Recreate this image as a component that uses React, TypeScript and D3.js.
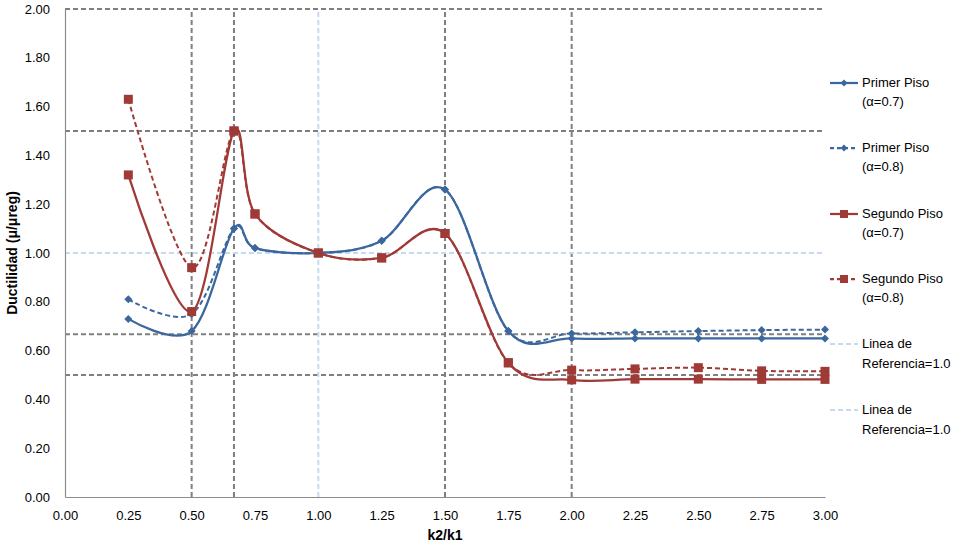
import React, { useEffect, useRef } from 'react';
import * as d3 from 'd3';

// k2/k1 ratios
const ratios = [0.25, 0.5, 0.667, 0.75, 1.0, 1.25, 1.5, 1.75, 2.0, 2.25, 2.5, 2.75, 3.0];

const primer07 = [0.73, 0.68, 1.10, 1.02, 1.00, 1.05, 1.26, 0.68, 0.65, 0.65, 0.65, 0.65, 0.65];
const primer08 = [0.81, 0.75, 1.10, 1.02, 1.00, 1.05, 1.26, 0.68, 0.67, 0.675, 0.68, 0.684, 0.686];
const segundo07 = [1.32, 0.76, 1.50, 1.16, 1.00, 0.98, 1.08, 0.55, 0.48, 0.483, 0.483, 0.482, 0.482];
const segundo08 = [1.63, 0.94, 1.50, 1.16, 1.00, 0.98, 1.08, 0.55, 0.52, 0.525, 0.53, 0.517, 0.515];

const grayH = [2.0, 1.5, 0.667, 0.5];
const grayV = [0.5, 0.667, 1.5, 2.0];
const refValue = 1.0;

const xTicks = d3.range(0, 3.001, 0.25);
const yTicks = d3.range(0, 2.001, 0.2);

const BLUE = '#3B679E';
const RED = '#A03A37';

const series = [
  { name: ['Primer Piso', '(α=0.7)'], values: primer07, color: BLUE, dash: null, marker: 'diamond' },
  { name: ['Primer Piso', '(α=0.8)'], values: primer08, color: BLUE, dash: '5,3', marker: 'diamond' },
  { name: ['Segundo Piso', '(α=0.7)'], values: segundo07, color: RED, dash: null, marker: 'square' },
  { name: ['Segundo Piso', '(α=0.8)'], values: segundo08, color: RED, dash: '5,3', marker: 'square' },
];

const refLegend = [['Linea de', 'Referencia=1.0'], ['Linea de', 'Referencia=1.0']];

const App = () => {
  const svgRef = useRef<SVGSVGElement>(null);
  const width = 959;
  const height = 545;
  const margin = { top: 9, right: 134, bottom: 48, left: 65 };

  useEffect(() => {
    const svg = d3.select(svgRef.current);
    svg.selectAll('*').remove();
    const font = 'Liberation Sans, Arial, sans-serif';

    const x = d3.scaleLinear().domain([0, 3]).range([margin.left, width - margin.right]);
    const y = d3.scaleLinear().domain([0, 2]).range([height - margin.bottom, margin.top]);

    // gray dashed reference grid
    svg.append('g').selectAll('line').data(grayH).enter().append('line')
      .attr('x1', x(0)).attr('x2', x(3))
      .attr('y1', d => y(d)).attr('y2', d => y(d))
      .attr('stroke', '#7F7F7F').attr('stroke-width', 2).attr('stroke-dasharray', '5,3');
    svg.append('g').selectAll('line').data(grayV).enter().append('line')
      .attr('x1', d => x(d)).attr('x2', d => x(d))
      .attr('y1', y(0)).attr('y2', y(2))
      .attr('stroke', '#7F7F7F').attr('stroke-width', 2).attr('stroke-dasharray', '5,3');

    // light blue reference line at 1.0
    svg.append('line')
      .attr('x1', x(0)).attr('x2', x(3)).attr('y1', y(refValue)).attr('y2', y(refValue))
      .attr('stroke', '#C6D9F1').attr('stroke-width', 2).attr('stroke-dasharray', '5,3');
    svg.append('line')
      .attr('x1', x(refValue)).attr('x2', x(refValue)).attr('y1', y(0)).attr('y2', y(2))
      .attr('stroke', '#C6D9F1').attr('stroke-width', 2).attr('stroke-dasharray', '5,3');

    // axes
    const xAxis = svg.append('g')
      .attr('transform', `translate(0,${y(0)})`)
      .call(d3.axisBottom(x).tickValues(xTicks).tickFormat(d3.format('.2f')).tickSize(0).tickPadding(14));
    const yAxis = svg.append('g')
      .attr('transform', `translate(${x(0)},0)`)
      .call(d3.axisLeft(y).tickValues(yTicks).tickFormat(d3.format('.2f')).tickSize(0).tickPadding(15));
    [xAxis, yAxis].forEach(a => {
      a.select('.domain').attr('stroke', '#8C8C8C').attr('stroke-width', 1.2);
      a.selectAll('text').attr('font-family', font).attr('font-size', 13).attr('fill', '#000');
    });

    svg.append('text')
      .attr('x', x(1.5)).attr('y', 540)
      .attr('text-anchor', 'middle')
      .attr('font-family', font).attr('font-size', 14).attr('font-weight', 'bold')
      .text('k2/k1');
    svg.append('text')
      .attr('transform', `translate(17,${y(1)}) rotate(-90)`)
      .attr('text-anchor', 'middle')
      .attr('font-family', font).attr('font-size', 14).attr('font-weight', 'bold')
      .text('Ductilidad (μ/μreg)');

    const line = d3.line<number>()
      .x((d, i) => x(ratios[i]))
      .y(d => y(d))
      .curve(d3.curveCardinal.tension(0));

    const drawMarker = (g, cx, cy, marker, color, s) => {
      if (marker === 'diamond') {
        g.append('path')
          .attr('d', `M${cx},${cy - s}L${cx + s},${cy}L${cx},${cy + s}L${cx - s},${cy}Z`)
          .attr('fill', color);
      } else {
        g.append('rect')
          .attr('x', cx - s).attr('y', cy - s).attr('width', 2 * s).attr('height', 2 * s)
          .attr('fill', color);
      }
    };

    series.forEach(s => {
      const g = svg.append('g');
      g.append('path')
        .datum(s.values)
        .attr('fill', 'none')
        .attr('stroke', s.color)
        .attr('stroke-width', s.dash ? 2 : 2.25)
        .attr('stroke-dasharray', s.dash)
        .attr('d', line);
      s.values.forEach((v, i) => drawMarker(g, x(ratios[i]), y(v), s.marker, s.color, s.marker === 'diamond' ? 4 : 4.5));
    });

    // legend
    const lx = 830;
    const leg = svg.append('g');
    const rows = [83, 148, 214, 279];
    series.forEach((s, i) => {
      const cy = rows[i];
      leg.append('line')
        .attr('x1', lx).attr('x2', lx + 28).attr('y1', cy).attr('y2', cy)
        .attr('stroke', s.color).attr('stroke-width', 2.25).attr('stroke-dasharray', s.dash ? '4,3' : null);
      drawMarker(leg, lx + 14, cy, s.marker, s.color, s.marker === 'diamond' ? 3.5 : 4);
      s.name.forEach((t, j) => leg.append('text')
        .attr('x', lx + 32).attr('y', cy + 4 + j * 19)
        .attr('font-family', font).attr('font-size', 13).text(t));
    });
    const refRows = [344, 410];
    refLegend.forEach((name, i) => {
      const cy = refRows[i];
      leg.append('line')
        .attr('x1', lx).attr('x2', lx + 28).attr('y1', cy).attr('y2', cy)
        .attr('stroke', '#C6D9F1').attr('stroke-width', 2).attr('stroke-dasharray', '5,3');
      name.forEach((t, j) => leg.append('text')
        .attr('x', lx + 32).attr('y', cy + 4 + j * 20)
        .attr('font-family', font).attr('font-size', 13).text(t));
    });
  }, []);

  return (
    <svg ref={svgRef} width={width} height={height}
      style={{ position: 'absolute', left: 0, top: 0, background: '#fff' }} />
  );
};

export default App;
